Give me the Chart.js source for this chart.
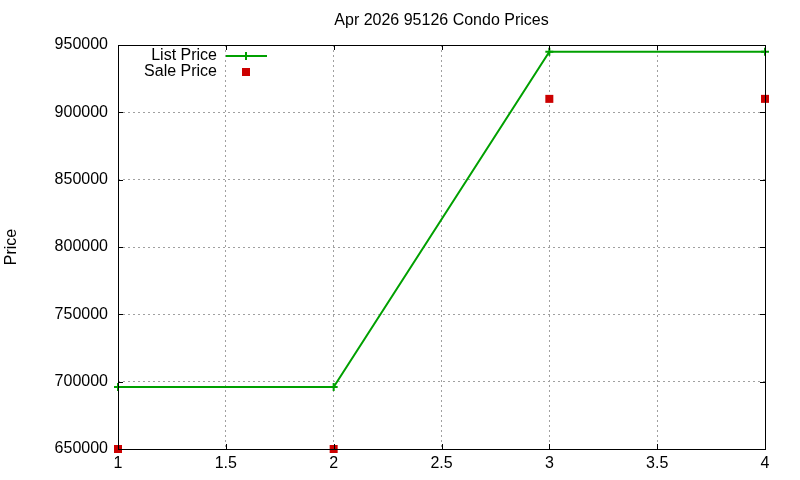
<!DOCTYPE html>
<html>
<head>
<meta charset="utf-8">
<script src="https://cdn.jsdelivr.net/npm/chart.js@4"></script>
<style>
html,body{margin:0;padding:0;background:#fff;}
#wrap{width:800px;height:480px;}
</style>
</head>
<body>
<div id="wrap"><canvas id="c" width="800" height="480"></canvas></div>
<script>
const chartTitle = "Apr 2026 95126 Condo Prices";
const yAxisTitle = "Price";
const xValues = [1, 2, 3, 4];
const listPrice = [696000, 696000, 945000, 945000];
const salePrice = [650000, 650000, 910000, 910000];
const seriesNames = ["List Price", "Sale Price"];
const xMin = 1, xMax = 4, xStep = 0.5;
const yMin = 650000, yMax = 950000, yStep = 50000;

const GREEN = "#00a000";
const RED = "#cc0000";
const FONT = "'Liberation Sans', Arial, sans-serif";

const toPoints = (xs, ys) => xs.map((x, i) => ({x: x, y: ys[i]}));

const gnuPlugin = {
  id: 'gnu',
  afterDraw(chart) {
    const ctx = chart.ctx;
    const a = chart.chartArea;
    const xs = chart.scales.x, ys = chart.scales.y;
    ctx.save();
    // border
    ctx.strokeStyle = '#000';
    ctx.lineWidth = 1;
    ctx.setLineDash([]);
    ctx.strokeRect(Math.round(a.left) + 0.5, Math.round(a.top) + 0.5,
                   Math.round(a.right - a.left), Math.round(a.bottom - a.top));
    // inward ticks on all sides
    const tl = 5;
    ctx.beginPath();
    xs.ticks.forEach(t => {
      const px = Math.round(xs.getPixelForValue(t.value)) + 0.5;
      ctx.moveTo(px, a.bottom); ctx.lineTo(px, a.bottom - tl);
      ctx.moveTo(px, a.top); ctx.lineTo(px, a.top + tl);
    });
    ys.ticks.forEach(t => {
      const py = Math.round(ys.getPixelForValue(t.value)) + 0.5;
      ctx.moveTo(a.left, py); ctx.lineTo(a.left + tl, py);
      ctx.moveTo(a.right, py); ctx.lineTo(a.right - tl, py);
    });
    ctx.stroke();
    // title
    ctx.fillStyle = '#000';
    ctx.font = "16px " + FONT;
    ctx.textAlign = 'center';
    ctx.textBaseline = 'middle';
    ctx.fillText(chartTitle, (a.left + a.right) / 2, 21);
    // y axis title
    ctx.save();
    ctx.translate(12, (a.top + a.bottom) / 2);
    ctx.rotate(-Math.PI / 2);
    ctx.fillText(yAxisTitle, 0, 0);
    ctx.restore();
    // legend
    ctx.textAlign = 'right';
    ctx.fillText(seriesNames[0], 217, 56);
    ctx.fillText(seriesNames[1], 217, 72);
    ctx.strokeStyle = GREEN;
    ctx.lineWidth = 2;
    ctx.beginPath();
    ctx.moveTo(226, 56); ctx.lineTo(267, 56);
    ctx.moveTo(246, 52); ctx.lineTo(246, 60);
    ctx.stroke();
    ctx.fillStyle = RED;
    ctx.fillRect(242, 68, 8, 8);
    ctx.restore();
  }
};

new Chart(document.getElementById('c'), {
  type: 'scatter',
  data: {
    datasets: [
      {
        label: seriesNames[0],
        data: toPoints(xValues, listPrice),
        showLine: true,
        borderColor: GREEN,
        backgroundColor: GREEN,
        borderWidth: 2,
        pointStyle: 'cross',
        pointRadius: 4,
        pointBorderWidth: 2,
        pointHoverRadius: 4,
        clip: false,
        order: 2
      },
      {
        label: seriesNames[1],
        data: toPoints(xValues, salePrice),
        showLine: false,
        borderColor: RED,
        backgroundColor: RED,
        borderWidth: 0,
        pointStyle: 'rect',
        pointRadius: 5.66,
        pointHoverRadius: 5.66,
        clip: false,
        order: 1
      }
    ]
  },
  options: {
    responsive: false,
    animation: false,
    devicePixelRatio: 1,
    layout: { padding: { left: 0, right: 35, top: 45, bottom: 0 } },
    plugins: {
      legend: { display: false },
      title: { display: false },
      tooltip: { enabled: false }
    },
    scales: {
      x: {
        type: 'linear',
        min: xMin, max: xMax,
        ticks: {
          stepSize: xStep,
          padding: 5,
          color: '#000',
          font: { family: FONT, size: 16 },
          callback: v => String(v)
        },
        grid: { color: '#a0a0a0', lineWidth: 1, drawTicks: false },
        border: { display: false, dash: [2, 3] },
        afterFit: s => { s.height = 31; }
      },
      y: {
        type: 'linear',
        min: yMin, max: yMax,
        ticks: {
          stepSize: yStep,
          padding: 10,
          color: '#000',
          font: { family: FONT, size: 16 },
          callback: v => String(v)
        },
        grid: { color: '#a0a0a0', lineWidth: 1, drawTicks: false },
        border: { display: false, dash: [2, 3] },
        afterFit: s => { s.width = 118; }
      }
    }
  },
  plugins: [gnuPlugin]
});
</script>
</body>
</html>
